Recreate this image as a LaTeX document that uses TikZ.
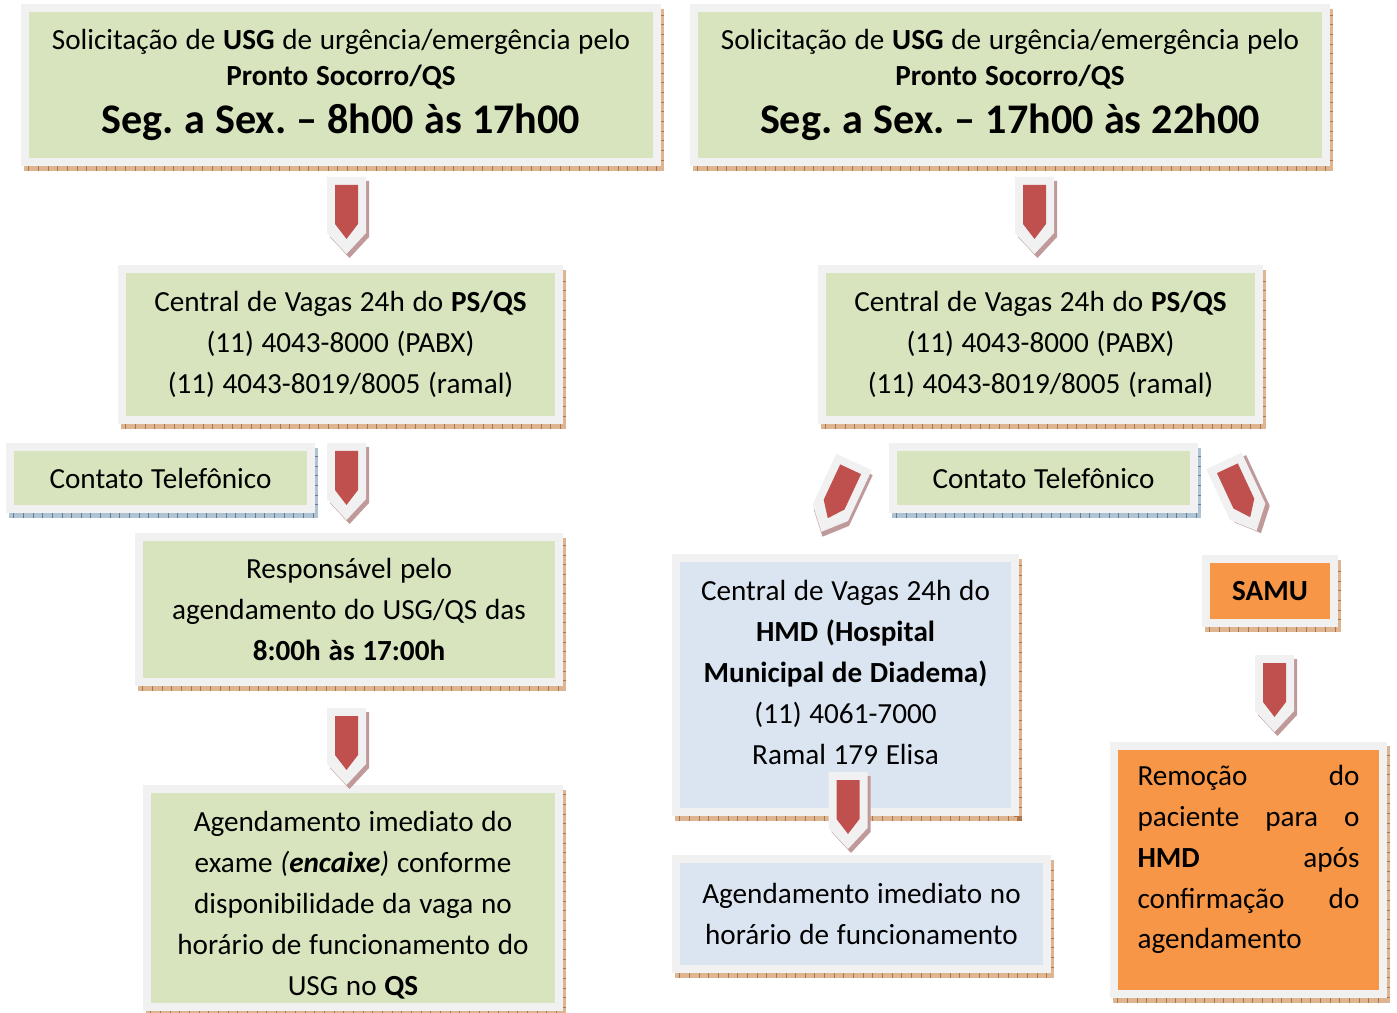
\documentclass[tikz,border=0pt]{standalone}
\usepackage{fontspec}
\setmainfont{Carlito}
\frenchspacing
\usetikzlibrary{shadows}

\definecolor{verde}{HTML}{D7E4BD}
\definecolor{azul}{HTML}{DBE5F1}
\definecolor{laranja}{HTML}{F79646}
\definecolor{moldura}{HTML}{F1F1F1}
\definecolor{vermelho}{HTML}{C0504D}
\definecolor{sombra}{HTML}{DDB590}
\definecolor{sombraesc}{HTML}{B07448}
\definecolor{sombraazul}{HTML}{AFC3D2}
\definecolor{sombraazulesc}{HTML}{5E7F96}
\definecolor{sombraseta}{HTML}{C09A9A}

\tikzset{
  caixa/.style={draw=moldura, line width=0.16cm, inner sep=0pt, align=center,
    font=\fontsize{16.6}{23.3}\selectfont,
    execute at begin node={\spaceskip=0.265em\relax}},
  sombreado/.style 2 args={
    drop shadow={opacity=1, shadow xshift=1.8pt, shadow yshift=-2.6pt,
      fill=#1, draw=#1, line width=0.16cm},
    drop shadow={opacity=1, shadow xshift=1.8pt, shadow yshift=-2.6pt,
      fill=none, draw=#2, line width=0.16cm, dash pattern=on 0.5pt off 5pt}},
  pics/seta/.style={code={
    \fill[sombraseta] (-16.5,4) -- (22.5,4) -- (22.5,60) -- (3,81) -- (-16.5,60) -- cycle;
    \fill[moldura] (-19.5,0) -- (19.5,0) -- (19.5,56) -- (0,77) -- (-19.5,56) -- cycle;
    \fill[vermelho] (-11.5,8) -- (11.5,8) -- (11.5,47) -- (0,62) -- (-11.5,47) -- cycle;
  }}
}

\begin{document}
\begin{tikzpicture}[x=0.02cm, y=-0.02cm]
\path[use as bounding box, fill=white] (0,0) rectangle (1397,1013);

% coluna da esquerda
\node[caixa, sombreado={sombra}{sombraesc}, fill=verde, minimum width=12.64cm, minimum height=3.08cm,
  text width=12.3cm, font=\fontsize{16.6}{20.4}\selectfont] (solmanha) at (341,85)
  {Solicitação de \textbf{USG} de urgência/emergência pelo\\ \textbf{Pronto Socorro/QS}\\[6.8pt]
  {\fontsize{24}{28}\selectfont\bfseries\spaceskip=0.24em\relax Seg. a Sex. – 8h00 às 17h00}};
\node[caixa, sombreado={sombra}{sombraesc}, fill=verde, minimum width=8.74cm, minimum height=3.02cm,
  text width=8.5cm] (centralps) at (340.5,344.5)
  {Central de Vagas 24h do \textbf{PS/QS}\\(11) 4043-8000 (PABX)\\(11) 4043-8019/8005 (ramal)};
\node[caixa, sombreado={sombraazul}{sombraazulesc}, fill=verde, minimum width=6.02cm, minimum height=1.24cm,
  text width=5.8cm] (contato) at (160.5,478) {Contato Telefônico};
\node[caixa, sombreado={sombra}{sombraesc}, fill=verde, minimum width=8.4cm, minimum height=2.9cm,
  text width=8.1cm] (responsavel) at (349,609.5)
  {Responsável pelo\\agendamento do USG/QS das\\\textbf{8:00h às 17:00h}};
\node[caixa, sombreado={sombra}{sombraesc}, fill=verde, minimum width=8.24cm, minimum height=4.36cm,
  text width=8cm, text height=19.3pt] (encaixe) at (353,898)
  {Agendamento imediato do\\exame \textit{(\textbf{encaixe})} conforme\\disponibilidade da vaga no\\horário de funcionamento do\\USG no \textbf{QS}};

% coluna da direita
\node[caixa, sombreado={sombra}{sombraesc}, fill=verde, minimum width=12.64cm, minimum height=3.08cm,
  text width=12.3cm, font=\fontsize{16.6}{20.4}\selectfont] (solnoite) at (1010,85)
  {Solicitação de \textbf{USG} de urgência/emergência pelo\\ \textbf{Pronto Socorro/QS}\\[6.8pt]
  {\fontsize{24}{28}\selectfont\bfseries\spaceskip=0.24em\relax Seg. a Sex. – 17h00 às 22h00}};
\node[caixa, sombreado={sombra}{sombraesc}, fill=verde, minimum width=8.74cm, minimum height=3.02cm,
  text width=8.5cm] (centralps2) at (1040.5,344.5)
  {Central de Vagas 24h do \textbf{PS/QS}\\(11) 4043-8000 (PABX)\\(11) 4043-8019/8005 (ramal)};
\node[caixa, sombreado={sombraazul}{sombraazulesc}, fill=verde, minimum width=6.02cm, minimum height=1.24cm,
  text width=5.8cm] (contato2) at (1043.5,478) {Contato Telefônico};
\node[caixa, sombreado={sombra}{sombraesc}, fill=azul, minimum width=6.78cm, minimum height=5.08cm,
  text width=6.5cm] (centralhmd) at (845.5,685)
  {Central de Vagas 24h do\\\textbf{HMD (Hospital}\\\textbf{Municipal de Diadema)}\\(11) 4061-7000\\Ramal 179 Elisa\\[-8.6pt]\mbox{}};
\node[caixa, sombreado={sombra}{sombraesc}, fill=azul, minimum width=7.42cm, minimum height=2.2cm,
  text width=7.1cm] (agendahmd) at (861.5,914)
  {Agendamento imediato no\\horário de funcionamento};
\node[caixa, sombreado={sombra}{sombraesc}, fill=laranja, minimum width=2.56cm, minimum height=1.28cm,
  text width=2.3cm] (samu) at (1270,591) {\textbf{SAMU}};
\node[caixa, sombreado={sombra}{sombraesc}, fill=laranja, minimum width=5.38cm, minimum height=4.98cm,
  text width=4.44cm, align=left] (remocao) at (1248.5,870)
  {Remoção\hfill do\\paciente\hfill para\hfill o\\\textbf{HMD}\hfill após\\confirmação\hfill do\\agendamento\\[-8.5pt]\mbox{}};

% setas
\pic at (346.5,177) {seta};
\pic at (1034.5,177) {seta};
\pic at (346.5,443) {seta};
\pic at (346.5,708) {seta};
\pic at (848,772) {seta};
\pic at (1274.5,655) {seta};
\pic[rotate=-25] at (854,462) {seta};
\pic[rotate=25] at (1224,461) {seta};
\end{tikzpicture}
\end{document}
